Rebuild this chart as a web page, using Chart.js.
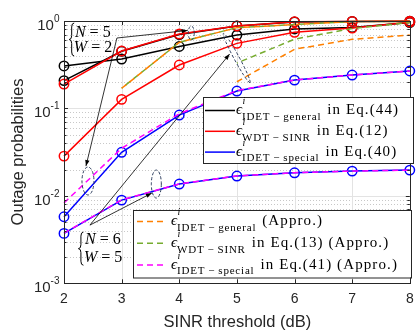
<!DOCTYPE html>
<html>
<head>
<meta charset="utf-8">
<script src="https://cdn.jsdelivr.net/npm/chart.js@4.4.1/dist/chart.umd.min.js"></script>
<style>
  html, body { margin: 0; padding: 0; background: #fff; }
  #wrap { width: 416px; height: 330px; }
</style>
</head>
<body>
<div id="wrap"><canvas id="c" width="416" height="330"></canvas></div>
<script>
// SINR threshold (dB)
const sinr = [2, 3, 4, 5, 6, 7, 8];
const yTicks = [1, 0.1, 0.01, 0.001];
const yTickExp = ['0', '-1', '-2', '-3'];

// N = 5, W = 2
const idetGeneralA = [0.208, 0.45, 0.70, 0.875, 0.975, 0.99, 0.995];
const wdtSinrA = [0.19, 0.454, 0.71, 0.877, 0.98, 0.99, 0.997];
const idetSpecialA = [0.00577, 0.0315, 0.084, 0.158, 0.211, 0.241, 0.268];
const idetGeneralApproA = [null, 0.17, 0.57, 0.84, 0.91, 0.985, 0.99];
const wdtSinrApproA = [null, 0.17, 0.57, 0.84, 0.91, 0.985, 0.99];
const idetSpecialApproA = [0.0083, 0.035, 0.087, 0.16, 0.211, 0.241, 0.268];

// N = 6, W = 5
const idetGeneralB = [0.306, 0.367, 0.511, 0.69, 0.81, 0.84, 0.96];
const wdtSinrB = [0.0285, 0.127, 0.314, 0.555, 0.743, 0.83, 0.97];
const idetSpecialB = [0.00372, 0.00895, 0.01365, 0.01685, 0.01837, 0.0192, 0.0197];
const idetGeneralApproB = [null, null, null, 0.202, 0.475, 0.617, 0.69];
const wdtSinrApproB = [null, null, null, 0.33, 0.62, 0.82, 0.96];
const idetSpecialApproB = [0.00375, 0.0090, 0.0137, 0.0169, 0.0184, 0.0192, 0.0197];

const BLACK = '#000000', RED = '#ff0000', BLUE = '#0000ff';
const ORANGE = '#ff8000', GREEN = '#77ac30', MAGENTA = '#ff00ff';
const AXIS = '#262626';
const SANS = '"Liberation Sans", Arial, sans-serif';
const SERIF = '"Liberation Serif", "Times New Roman", serif';

const pts = arr => sinr.map((x, i) => ({ x, y: arr[i] }));

function solid(values, color, order) {
  return {
    data: pts(values), borderColor: color, borderWidth: 1.5,
    pointRadius: 4.7, pointBorderWidth: 1.5, pointBorderColor: color,
    pointBackgroundColor: 'rgba(0,0,0,0)', pointStyle: 'circle',
    order, clip: false
  };
}
function dashed(values, color, order, offset) {
  return {
    data: pts(values), borderColor: color, borderWidth: 1.5,
    borderDash: [6, 4], borderDashOffset: offset || 0,
    pointRadius: 0, order, clip: false
  };
}

const datasets = [
  solid(idetGeneralA, BLACK, 6), solid(idetGeneralB, BLACK, 6),
  solid(wdtSinrA, RED, 4), solid(wdtSinrB, RED, 4),
  solid(idetSpecialA, BLUE, 5), solid(idetSpecialB, BLUE, 5),
  dashed(idetGeneralApproA, ORANGE, 2), dashed(idetGeneralApproB, ORANGE, 2),
  dashed(wdtSinrApproA, GREEN, 3, 5), dashed(wdtSinrApproB, GREEN, 3, 5),
  dashed(idetSpecialApproA, MAGENTA, 1), dashed(idetSpecialApproB, MAGENTA, 1)
];

// grid under the data
const gridPlugin = {
  id: 'matlabGrid',
  beforeDatasetsDraw(chart) {
    const { ctx, chartArea: a, scales } = chart;
    const xs = scales.x, ys = scales.y;
    ctx.save();
    ctx.lineWidth = 1;
    // minor (dotted) on the log axis
    ctx.strokeStyle = '#c8c8c8';
    ctx.setLineDash([1, 2]);
    for (let k = -3; k < 0; k++) {
      for (let m = 2; m <= 9; m++) {
        const y = Math.round(ys.getPixelForValue(m * Math.pow(10, k))) + 0.5;
        ctx.beginPath(); ctx.moveTo(a.left, y); ctx.lineTo(a.right, y); ctx.stroke();
      }
    }
    ctx.setLineDash([]);
    ctx.strokeStyle = '#e3e3e3';
    yTicks.forEach(v => {
      const y = Math.round(ys.getPixelForValue(v)) + 0.5;
      ctx.beginPath(); ctx.moveTo(a.left, y); ctx.lineTo(a.right, y); ctx.stroke();
    });
    sinr.forEach(v => {
      const x = Math.round(xs.getPixelForValue(v)) + 0.5;
      ctx.beginPath(); ctx.moveTo(x, a.top); ctx.lineTo(x, a.bottom); ctx.stroke();
    });
    ctx.restore();
  }
};

function arrow(ctx, x0, y0, x1, y1) {
  ctx.beginPath(); ctx.moveTo(x0, y0); ctx.lineTo(x1, y1); ctx.stroke();
  const ang = Math.atan2(y1 - y0, x1 - x0);
  const L = 6, W = 2.2;
  ctx.beginPath();
  ctx.moveTo(x1, y1);
  ctx.lineTo(x1 - L * Math.cos(ang) + W * Math.sin(ang), y1 - L * Math.sin(ang) - W * Math.cos(ang));
  ctx.lineTo(x1 - L * Math.cos(ang) - W * Math.sin(ang), y1 - L * Math.sin(ang) + W * Math.cos(ang));
  ctx.closePath(); ctx.fill();
}

function brace(ctx, x, yTop, yBot) {
  const w = 5, r = 4, ym = (yTop + yBot) / 2, xm = x + w / 2;
  ctx.beginPath();
  ctx.moveTo(x + w, yTop);
  ctx.quadraticCurveTo(xm, yTop, xm, yTop + r);
  ctx.lineTo(xm, ym - r);
  ctx.quadraticCurveTo(xm, ym, x, ym);
  ctx.quadraticCurveTo(xm, ym, xm, ym + r);
  ctx.lineTo(xm, yBot - r);
  ctx.quadraticCurveTo(xm, yBot, x + w, yBot);
  ctx.stroke();
}

function eqLabel(ctx, x, y, sym, val) {
  ctx.textAlign = 'left'; ctx.textBaseline = 'middle';
  ctx.font = 'italic 16px ' + SERIF;
  ctx.fillText(sym, x, y);
  let cx = x + ctx.measureText(sym).width + 4;
  ctx.font = '16px ' + SERIF;
  ctx.fillText('=', cx, y);
  cx += ctx.measureText('=').width + 4;
  ctx.fillText(val, cx, y);
}

function mathEntry(ctx, x, y, sub, tail) {
  ctx.textAlign = 'left'; ctx.textBaseline = 'middle';
  ctx.fillStyle = '#000';
  ctx.font = 'italic 15px ' + SERIF;
  ctx.fillText('\u03f5', x, y);
  const ew = ctx.measureText('\u03f5').width;
  ctx.font = 'italic 10px ' + SERIF;
  ctx.fillText('i', x + ew + 0.5, y - 9);
  ctx.font = '11px ' + SERIF;
  ctx.letterSpacing = '0.8px';
  ctx.fillText(sub, x + ew, y + 6.5);
  const sw = ctx.measureText(sub).width;
  ctx.font = '15px ' + SERIF;
  ctx.letterSpacing = '1.1px';
  ctx.fillText(tail, x + ew + sw + 6, y);
  ctx.letterSpacing = '0px';
}

const legendOne = [
  [BLACK, 'IDET\u2009\u2212\u2009general', 'in Eq.(44)'],
  [RED, 'WDT\u2009\u2212\u2009SINR', 'in Eq.(12)'],
  [BLUE, 'IDET\u2009\u2212\u2009special', 'in Eq.(40)']
];
const legendTwo = [
  [ORANGE, 'IDET\u2009\u2212\u2009general', '(Appro.)'],
  [GREEN, 'WDT\u2009\u2212\u2009SINR', 'in Eq.(13) (Appro.)'],
  [MAGENTA, 'IDET\u2009\u2212\u2009special', 'in Eq.(41) (Appro.)']
];

function legendBox(ctx, box, rows, dash) {
  ctx.fillStyle = '#fff';
  ctx.fillRect(box.x, box.y, box.w, box.h);
  ctx.strokeStyle = AXIS; ctx.lineWidth = 1;
  ctx.strokeRect(box.x + 0.5, box.y + 0.5, box.w, box.h);
  rows.forEach((r, i) => {
    const y = box.y + box.first + i * box.step;
    ctx.strokeStyle = r[0]; ctx.lineWidth = 1.5;
    ctx.setLineDash(dash ? [6, 4] : []);
    ctx.beginPath(); ctx.moveTo(box.x + box.l0, y); ctx.lineTo(box.x + box.l1, y); ctx.stroke();
    ctx.setLineDash([]);
    mathEntry(ctx, box.x + box.tx, y, r[1], r[2]);
  });
}

const overlayPlugin = {
  id: 'matlabOverlay',
  afterDatasetsDraw(chart) {
    const { ctx, chartArea: a, scales } = chart;
    const xs = scales.x, ys = scales.y;
    const px = v => xs.getPixelForValue(v);
    const py = v => ys.getPixelForValue(v);
    ctx.save();

    // annotations
    ctx.strokeStyle = '#000'; ctx.fillStyle = '#000'; ctx.lineWidth = 0.8;
    const o5 = [px(2.918), py(0.639)];
    arrow(ctx, o5[0], o5[1], px(4.147), py(0.779));
    arrow(ctx, o5[0], o5[1], px(2.381), py(0.0219));
    const o6 = [px(2.450), py(0.00463)];
    arrow(ctx, o6[0], o6[1], px(3.524), py(0.01076));
    arrow(ctx, o6[0], o6[1], px(4.874), py(0.419));

    ctx.strokeStyle = '#2f3f5f'; ctx.lineWidth = 1; ctx.setLineDash([3, 2]);
    const ell = (x, y, rx, ry, rot) => {
      ctx.beginPath(); ctx.ellipse(px(x), py(y), rx, ry, rot, 0, Math.PI * 2); ctx.stroke();
    };
    ell(4.208, 0.729, 3, 7, 0);
    ell(2.416, 0.0148, 6, 14, 0);
    ell(3.602, 0.01365, 5, 14, 0);
    ell(4.996, 0.377, 28, 2.6, 61.6 * Math.PI / 180);
    ctx.setLineDash([]);

    ctx.strokeStyle = '#000'; ctx.fillStyle = '#000'; ctx.lineWidth = 1;
    brace(ctx, px(2.09), py(0.948), py(0.398));
    eqLabel(ctx, px(2.19), py(0.729), 'N', '5');
    eqLabel(ctx, px(2.17), py(0.491), 'W', '2');
    brace(ctx, px(2.25), py(0.00385), py(0.00161));
    eqLabel(ctx, px(2.364), py(0.00312), 'N', '6');
    eqLabel(ctx, px(2.347), py(0.00194), 'W', '5');

    // axes box and ticks
    ctx.strokeStyle = AXIS; ctx.lineWidth = 1;
    ctx.strokeRect(Math.round(a.left) + 0.5, Math.round(a.top) + 0.5,
      Math.round(a.right - a.left), Math.round(a.bottom - a.top));
    ctx.beginPath();
    sinr.forEach(v => {
      const x = Math.round(px(v)) + 0.5;
      ctx.moveTo(x, a.bottom); ctx.lineTo(x, a.bottom - 4);
      ctx.moveTo(x, a.top); ctx.lineTo(x, a.top + 4);
    });
    yTicks.forEach(v => {
      const y = Math.round(py(v)) + 0.5;
      ctx.moveTo(a.left, y); ctx.lineTo(a.left + 4, y);
      ctx.moveTo(a.right, y); ctx.lineTo(a.right - 4, y);
    });
    for (let k = -3; k < 0; k++) {
      for (let m = 2; m <= 9; m++) {
        const y = Math.round(py(m * Math.pow(10, k))) + 0.5;
        ctx.moveTo(a.left, y); ctx.lineTo(a.left + 2.5, y);
        ctx.moveTo(a.right, y); ctx.lineTo(a.right - 2.5, y);
      }
    }
    ctx.stroke();

    // tick labels
    ctx.fillStyle = AXIS;
    ctx.font = '14px ' + SANS;
    ctx.textAlign = 'center'; ctx.textBaseline = 'middle';
    sinr.forEach(v => ctx.fillText(String(v), px(v), a.bottom + 15.5));
    yTicks.forEach((v, i) => {
      const y = py(v);
      ctx.font = '10px ' + SANS;
      ctx.textAlign = 'left';
      const ew = ctx.measureText(yTickExp[i]).width;
      const right = a.left - 4.5;
      ctx.fillText(yTickExp[i], right - ew, y - 2);
      ctx.font = '15px ' + SANS;
      ctx.textAlign = 'right';
      ctx.fillText('10', right - ew, y + 4.5);
    });

    // axis titles
    ctx.font = '16.5px ' + SANS;
    ctx.textAlign = 'center';
    ctx.fillText('SINR threshold (dB)', (a.left + a.right) / 2 + 0.5, a.bottom + 39.5);
    ctx.save();
    ctx.translate(18, 152);
    ctx.rotate(-Math.PI / 2);
    ctx.fillText('Outage probabilities', 0, 0);
    ctx.restore();

    // legends
    legendBox(ctx, { x: 203, y: 97, w: 210, h: 66, first: 13.5, step: 20.8, l0: 2, l1: 32, tx: 33 }, legendOne, false);
    legendBox(ctx, { x: 133, y: 210, w: 278, h: 67.5, first: 11.5, step: 21.7, l0: 4, l1: 33, tx: 38 }, legendTwo, true);

    ctx.restore();
  }
};

new Chart(document.getElementById('c'), {
  type: 'line',
  data: { datasets },
  options: {
    responsive: false,
    animation: false,
    devicePixelRatio: 1,
    layout: { padding: { left: 64, top: 21, right: 5.3, bottom: 46.7 } },
    elements: { line: { tension: 0 } },
    scales: {
      x: { type: 'linear', min: 2, max: 8, display: false },
      y: { type: 'logarithmic', min: 0.001, max: 1, display: false }
    },
    plugins: { legend: { display: false }, tooltip: { enabled: false } }
  },
  plugins: [gridPlugin, overlayPlugin]
});
</script>
</body>
</html>
